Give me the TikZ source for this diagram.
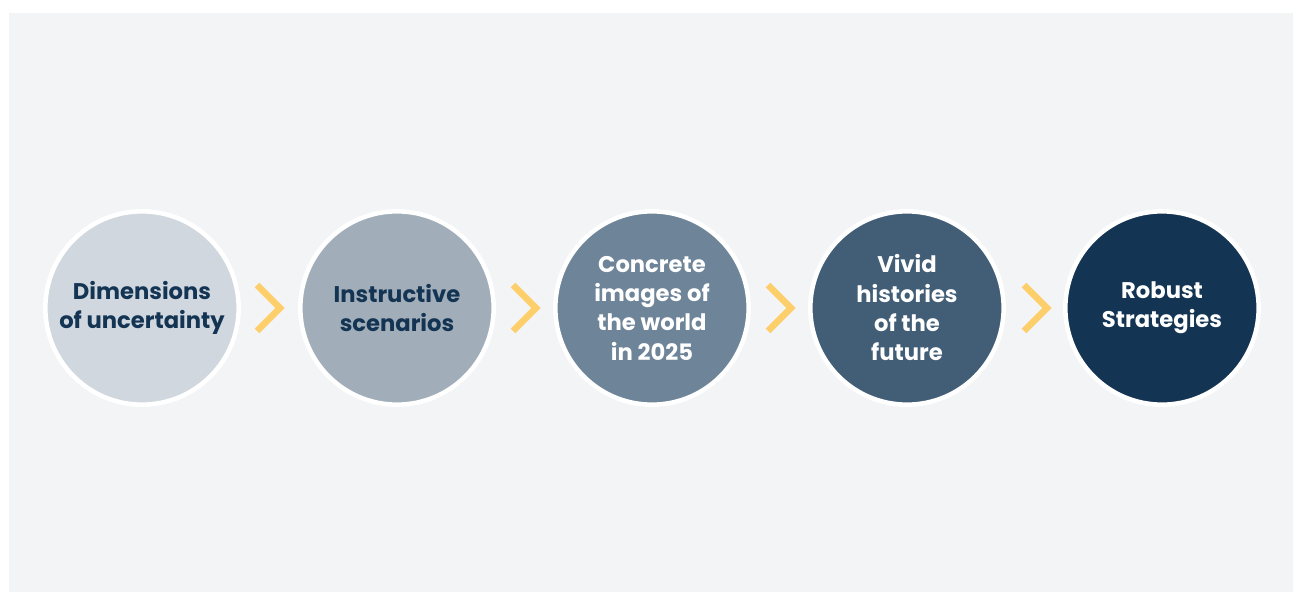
\documentclass[tikz,border=0pt]{standalone}
\usepackage{fontspec}
\setmainfont{Poppins}
\usepackage{tikz}

\definecolor{bggray}{HTML}{F3F4F6}
\definecolor{navy}{HTML}{133453}
\definecolor{stageA}{HTML}{D0D7DE}
\definecolor{stageB}{HTML}{A1AEB9}
\definecolor{stageC}{HTML}{6E8498}
\definecolor{stageD}{HTML}{425E77}
\definecolor{chevyellow}{HTML}{FDCF6B}

\begin{document}
\begin{tikzpicture}[x=0.75pt,y=-0.75pt,
    stage/.style={circle, draw=white, line width=3.4pt, minimum size=145pt,
      inner sep=0pt, align=center, font=\bfseries\fontsize{17}{22}\selectfont},
    chevron/.style={draw=chevyellow, line width=5pt, miter limit=10}]
         \useasboundingbox (0,0) rectangle (1293,592);
         \fill [bggray] (9,13) rectangle (1293,592);
         % the five stages
         \node [stage, fill=stageA, text=navy] (dims) at (142,308) {Dimensions\\of uncertainty};
         \node [stage, fill=stageB, text=navy] (scen) at (397,308) {Instructive\\scenarios};
         \node [stage, fill=stageC, text=white] (imgs) at (652,308) {Concrete\\images of\\the world\\in 2025};
         \node [stage, fill=stageD, text=white] (hist) at (907,308) {Vivid\\histories\\of the\\future};
         \node [stage, fill=navy, text=white] (strat) at (1162,308) {Robust\\Strategies};
         % chevrons in between
         \foreach \cx in {268,524,779,1035}
           \draw [chevron] (\cx-11,285) -- (\cx+12,308) -- (\cx-11,331);
       \end{tikzpicture}
\end{document}
